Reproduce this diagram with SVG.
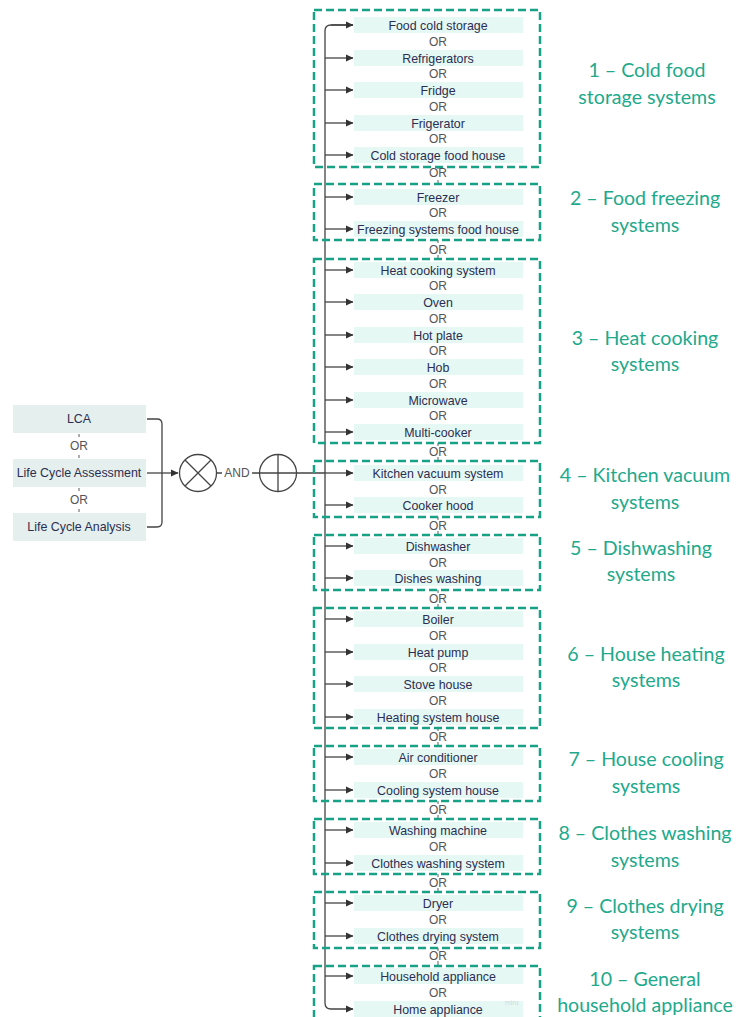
<svg xmlns="http://www.w3.org/2000/svg" width="739" height="1017" viewBox="0 0 739 1017">
<style>
.item{fill:#e6f8f4}
.lbox{fill:#e5efed}
.t{font-family:"Liberation Sans",Arial,sans-serif;font-size:12.4px;fill:#2b2e52;text-anchor:middle}
.or{font-family:"Liberation Sans",Arial,sans-serif;font-size:12px;fill:#555;text-anchor:middle}
.grp{fill:none;stroke:#17a286;stroke-width:2.5;stroke-dasharray:8 4}
.lab{font-family:Lato,"Open Sans",sans-serif;font-size:19.6px;fill:#22a98c;text-anchor:middle}
.c{fill:none;stroke:#444;stroke-width:1.3}
.tick{stroke:#777;stroke-width:1.2}
</style>
<defs>
<marker id="ah" markerWidth="8" markerHeight="8" refX="7" refY="4" orient="auto" markerUnits="userSpaceOnUse">
<path d="M0,0.5 L7.5,4 L0,7.5 Z" fill="#333"/>
</marker>
</defs>
<rect width="739" height="1017" fill="#fff"/>

<g id="connectors">
<path class="c" d="M147,419 H157 Q162,419 162,424 V522 Q162,527 157,527 H147"/>
<path class="c" d="M147,473 H178" marker-end="url(#ah)"/>
<path class="c" d="M216,473 H222 M252,473 H259 M297,473 H325"/>
<path class="c" d="M353,25 H331 Q325,25 325,31 V1003 Q325,1009 331,1009 H353" marker-end="url(#ah)"/>
<path class="c" d="M331,25 H353" marker-end="url(#ah)"/>
<g class="c" marker-end="url(#ah)">
<path d="M325,58 H353"/><path d="M325,90 H353"/><path d="M325,123 H353"/><path d="M325,155 H353"/>
<path d="M325,197 H353"/><path d="M325,229 H353"/>
<path d="M325,270 H353"/><path d="M325,302 H353"/><path d="M325,335 H353"/><path d="M325,367 H353"/><path d="M325,400 H353"/><path d="M325,432 H353"/>
<path d="M325,473 H353"/><path d="M325,505 H353"/>
<path d="M325,546 H353"/><path d="M325,578 H353"/>
<path d="M325,619 H353"/><path d="M325,652 H353"/><path d="M325,684 H353"/><path d="M325,717 H353"/>
<path d="M325,757 H353"/><path d="M325,790 H353"/>
<path d="M325,830 H353"/><path d="M325,863 H353"/>
<path d="M325,903 H353"/><path d="M325,936 H353"/>
<path d="M325,976 H353"/>
</g>
<g class="tick">
<path d="M79,434 V437 M79,455 V458 M79,488 V491 M79,509 V512"/>
<path d="M438,166 V169 M438,180 V184 M438,240 V243 M438,255 V258 M438,443 V446 M438,457 V461 M438,517 V520 M438,531 V535 M438,590 V593 M438,604 V608 M438,728 V731 M438,742 V746 M438,801 V804 M438,815 V819 M438,874 V877 M438,888 V892 M438,948 V951 M438,961 V965"/>
</g>
</g>

<g id="lca">
<rect class="lbox" x="13" y="405" width="133" height="28"/>
<text class="t" x="79" y="423">LCA</text>
<text class="or" x="79" y="450">OR</text>
<rect class="lbox" x="13" y="459" width="133" height="28"/>
<text class="t" x="79" y="477">Life Cycle Assessment</text>
<text class="or" x="79" y="504">OR</text>
<rect class="lbox" x="13" y="513" width="133" height="28"/>
<text class="t" x="79" y="531">Life Cycle Analysis</text>
</g>

<g id="and-op">
<circle cx="198" cy="473" r="18.5" fill="#fff" stroke="#444" stroke-width="1.3"/>
<path d="M185,460 L211,486 M211,460 L185,486" stroke="#444" stroke-width="1.3"/>
</g>
<text id="and-label" class="or" x="237" y="477">AND</text>
<g id="or-op">
<circle cx="278" cy="473" r="18.5" fill="#fff" stroke="#444" stroke-width="1.3"/>
<path d="M259.5,473 H296.5 M278,454.5 V491.5" stroke="#444" stroke-width="1.3"/>
</g>

<g id="g1">
<rect class="grp" x="314" y="10" width="226" height="157"/>
<rect class="item" x="354" y="17" width="169" height="16"/><text class="t" x="438" y="29.5">Food cold storage</text>
<text class="or" x="438" y="46">OR</text>
<rect class="item" x="354" y="50" width="169" height="16"/><text class="t" x="438" y="62.5">Refrigerators</text>
<text class="or" x="438" y="78">OR</text>
<rect class="item" x="354" y="82" width="169" height="16"/><text class="t" x="438" y="94.5">Fridge</text>
<text class="or" x="438" y="111">OR</text>
<rect class="item" x="354" y="115" width="169" height="16"/><text class="t" x="438" y="127.5">Frigerator</text>
<text class="or" x="438" y="143">OR</text>
<rect class="item" x="354" y="147" width="169" height="16"/><text class="t" x="438" y="159.5">Cold storage food house</text>
<text class="lab" x="647" y="77">1 – Cold food</text>
<text class="lab" x="647" y="104">storage systems</text>
</g>
<text class="or" x="438" y="177">OR</text>

<g id="g2">
<rect class="grp" x="314" y="184" width="226" height="56"/>
<rect class="item" x="354" y="189" width="169" height="16"/><text class="t" x="438" y="201.5">Freezer</text>
<text class="or" x="438" y="217">OR</text>
<rect class="item" x="354" y="221" width="169" height="16"/><text class="t" x="438" y="233.5">Freezing systems food house</text>
<text class="lab" x="645" y="205">2 – Food freezing</text>
<text class="lab" x="645" y="232">systems</text>
</g>
<text class="or" x="438" y="254">OR</text>

<g id="g3">
<rect class="grp" x="314" y="259" width="226" height="184"/>
<rect class="item" x="354" y="262" width="169" height="16"/><text class="t" x="438" y="274.5">Heat cooking system</text>
<text class="or" x="438" y="290">OR</text>
<rect class="item" x="354" y="294" width="169" height="16"/><text class="t" x="438" y="306.5">Oven</text>
<text class="or" x="438" y="323">OR</text>
<rect class="item" x="354" y="327" width="169" height="16"/><text class="t" x="438" y="339.5">Hot plate</text>
<text class="or" x="438" y="355">OR</text>
<rect class="item" x="354" y="359" width="169" height="16"/><text class="t" x="438" y="371.5">Hob</text>
<text class="or" x="438" y="388">OR</text>
<rect class="item" x="354" y="392" width="169" height="16"/><text class="t" x="438" y="404.5">Microwave</text>
<text class="or" x="438" y="420">OR</text>
<rect class="item" x="354" y="424" width="169" height="16"/><text class="t" x="438" y="436.5">Multi-cooker</text>
<text class="lab" x="645" y="345">3 – Heat cooking</text>
<text class="lab" x="645" y="371">systems</text>
</g>
<text class="or" x="438" y="456">OR</text>

<g id="g4">
<rect class="grp" x="314" y="461" width="226" height="56"/>
<rect class="item" x="354" y="465" width="169" height="16"/><text class="t" x="438" y="477.5">Kitchen vacuum system</text>
<text class="or" x="438" y="494">OR</text>
<rect class="item" x="354" y="497" width="169" height="16"/><text class="t" x="438" y="509.5">Cooker hood</text>
<text class="lab" x="645" y="482">4 – Kitchen vacuum</text>
<text class="lab" x="645" y="509">systems</text>
</g>
<text class="or" x="438" y="530">OR</text>

<g id="g5">
<rect class="grp" x="314" y="535" width="226" height="55"/>
<rect class="item" x="354" y="538" width="169" height="16"/><text class="t" x="438" y="550.5">Dishwasher</text>
<text class="or" x="438" y="567">OR</text>
<rect class="item" x="354" y="570" width="169" height="16"/><text class="t" x="438" y="582.5">Dishes washing</text>
<text class="lab" x="641" y="555">5 – Dishwashing</text>
<text class="lab" x="641" y="581">systems</text>
</g>
<text class="or" x="438" y="603">OR</text>

<g id="g6">
<rect class="grp" x="314" y="608" width="226" height="120"/>
<rect class="item" x="354" y="611" width="169" height="16"/><text class="t" x="438" y="623.5">Boiler</text>
<text class="or" x="438" y="640">OR</text>
<rect class="item" x="354" y="644" width="169" height="16"/><text class="t" x="438" y="656.5">Heat pump</text>
<text class="or" x="438" y="672">OR</text>
<rect class="item" x="354" y="676" width="169" height="16"/><text class="t" x="438" y="688.5">Stove house</text>
<text class="or" x="438" y="705">OR</text>
<rect class="item" x="354" y="709" width="169" height="16"/><text class="t" x="438" y="721.5">Heating system house</text>
<text class="lab" x="646" y="661">6 – House heating</text>
<text class="lab" x="646" y="687">systems</text>
</g>
<text class="or" x="438" y="741">OR</text>

<g id="g7">
<rect class="grp" x="314" y="746" width="226" height="55"/>
<rect class="item" x="354" y="749" width="169" height="16"/><text class="t" x="438" y="761.5">Air conditioner</text>
<text class="or" x="438" y="778">OR</text>
<rect class="item" x="354" y="782" width="169" height="16"/><text class="t" x="438" y="794.5">Cooling system house</text>
<text class="lab" x="646" y="766">7 – House cooling</text>
<text class="lab" x="646" y="793">systems</text>
</g>
<text class="or" x="438" y="814">OR</text>

<g id="g8">
<rect class="grp" x="314" y="819" width="226" height="55"/>
<rect class="item" x="354" y="822" width="169" height="16"/><text class="t" x="438" y="834.5">Washing machine</text>
<text class="or" x="438" y="851">OR</text>
<rect class="item" x="354" y="855" width="169" height="16"/><text class="t" x="438" y="867.5">Clothes washing system</text>
<text class="lab" x="645" y="840">8 – Clothes washing</text>
<text class="lab" x="645" y="867">systems</text>
</g>
<text class="or" x="438" y="887">OR</text>

<g id="g9">
<rect class="grp" x="314" y="892" width="226" height="56"/>
<rect class="item" x="354" y="895" width="169" height="16"/><text class="t" x="438" y="907.5">Dryer</text>
<text class="or" x="438" y="924">OR</text>
<rect class="item" x="354" y="928" width="169" height="16"/><text class="t" x="438" y="940.5">Clothes drying system</text>
<text class="lab" x="645" y="913">9 – Clothes drying</text>
<text class="lab" x="645" y="939">systems</text>
</g>
<text class="or" x="438" y="960">OR</text>

<g id="g10">
<rect class="grp" x="314" y="966" width="226" height="70"/>
<rect class="item" x="354" y="968" width="169" height="16"/><text class="t" x="438" y="980.5">Household appliance</text>
<text class="or" x="438" y="997">OR</text>
<rect class="item" x="354" y="1001" width="169" height="16"/><text class="t" x="438" y="1013.5">Home appliance</text>
<text x="505" y="1005" font-family="Liberation Sans,sans-serif" font-size="7" fill="#d4d8d8">miro</text>
<text class="lab" x="645" y="986">10 – General</text>
<text class="lab" x="645" y="1012">household appliance</text>
</g>
</svg>
